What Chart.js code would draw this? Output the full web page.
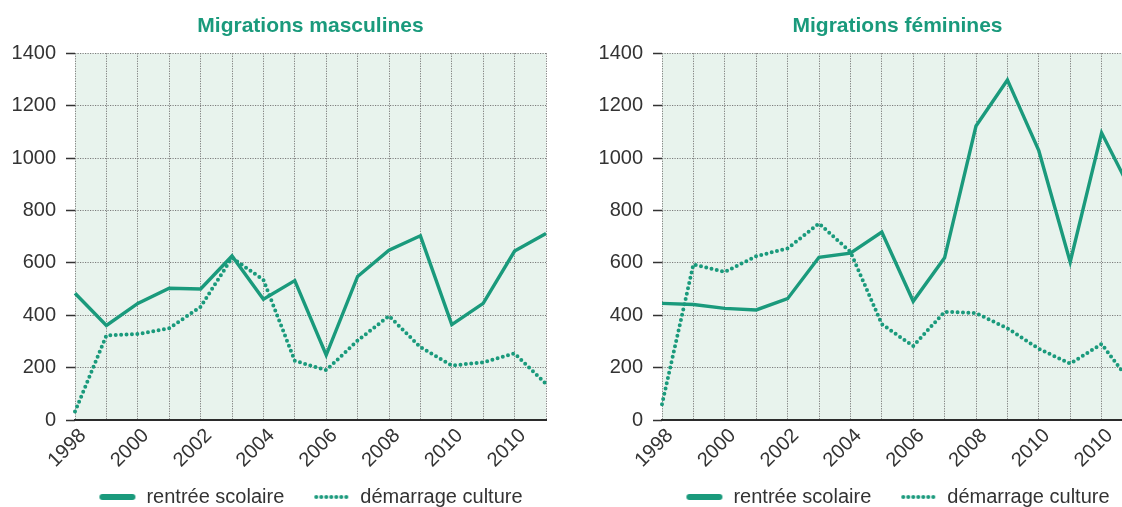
<!DOCTYPE html>
<html>
<head>
<meta charset="utf-8">
<script src="https://cdn.jsdelivr.net/npm/chart.js@4.4.0/dist/chart.umd.min.js"></script>
<style>
  html, body { margin: 0; padding: 0; background: #fff; overflow: hidden; width: 1122px; height: 507px; }
  .panel { position: absolute; top: 0; }
</style>
</head>
<body>
<div class="panel" style="left:0px"><canvas id="men" width="621" height="535"></canvas></div>
<div class="panel" style="left:587px"><canvas id="women" width="621" height="535"></canvas></div>
<script>
// years on the x axis, and the labels printed under every other year (the source repeats 2010)
const years = ["1998", "1999", "2000", "2001", "2002", "2003", "2004", "2005",
               "2006", "2007", "2008", "2009", "2010", "2011", "2012", "2013"];
const tickLabels = ["1998", "", "2000", "", "2002", "", "2004", "", "2006", "",
                    "2008", "", "2010", "", "2010", ""];
const seriesNames = ["rentrée scolaire", "démarrage culture"];
const titles = ["Migrations masculines", "Migrations féminines"];

// male migrations
const menSchool = [484, 361, 445, 503, 500, 626, 461, 532, 248, 548, 648, 703, 364, 445, 645, 712];
const menCrop   = [32, 323, 328, 350, 432, 619, 535, 226, 190, 303, 397, 278, 208, 220, 254, 138];
// female migrations
const womenSchool = [445, 441, 426, 420, 463, 621, 637, 717, 453, 619, 1122, 1298, 1028, 603, 1096, 860];
const womenCrop   = [60, 594, 565, 625, 655, 750, 642, 366, 282, 413, 408, 350, 272, 215, 290, 132];

const yTicks = { min: 0, max: 1400, step: 200 };

const teal = "#1a9a7c";
const gridGrey = "#7c7c7c";
const textGrey = "#333333";

//small pictures used as legend symbols
function solidSymbol() {
  const c = document.createElement("canvas");
  c.width = 38; c.height = 8;
  const g = c.getContext("2d");
  g.strokeStyle = teal;
  g.lineWidth = 6;
  g.lineCap = "round";
  g.beginPath(); g.moveTo(4, 4); g.lineTo(34, 4); g.stroke();
  return c;
}
function dottedSymbol() {
  const c = document.createElement("canvas");
  c.width = 38; c.height = 8;
  const g = c.getContext("2d");
  g.fillStyle = teal;
  for (let i = 0; i < 7; i++) {
    g.beginPath(); g.arc(4 + i * 5, 4, 2, 0, Math.PI * 2); g.fill();
  }
  return c;
}

//fill the plot area with the pale green
const plotBackground = {
  id: "plotBackground",
  beforeDraw(chart) {
    const a = chart.chartArea;
    const ctx = chart.ctx;
    ctx.save();
    ctx.fillStyle = "#e8f3ed";
    ctx.fillRect(a.left, a.top, a.right - a.left, a.bottom - a.top);
    ctx.restore();
  }
};

//pull the legend up a bit, the x labels need the room below the axis
const legendLift = {
  id: "legendLift",
  afterLayout(chart) {
    chart.legend.top -= 18;
    chart.legend.bottom -= 18;
  }
};

function makeChart(id, title, school, crop) {
  return new Chart(document.getElementById(id), {
    type: "line",
    plugins: [plotBackground, legendLift],
    data: {
      labels: years,
      datasets: [
        {
          label: seriesNames[0],
          data: school,
          borderColor: teal,
          backgroundColor: teal,
          borderWidth: 3.4,
          pointRadius: 0,
          pointStyle: solidSymbol(),
          tension: 0,
        },
        {
          label: seriesNames[1],
          data: crop,
          borderColor: teal,
          backgroundColor: teal,
          borderWidth: 4,
          borderDash: [0, 5.4],
          borderCapStyle: "round",
          pointRadius: 0,
          pointStyle: dottedSymbol(),
          tension: 0,
        },
      ],
    },
    options: {
      responsive: false,
      animation: false,
      devicePixelRatio: 1,
      layout: { padding: 0 },
      plugins: {
        tooltip: { enabled: false },
        title: {
          display: true,
          text: title,
          color: teal,
          font: { family: "Liberation Sans", size: 21, weight: "bold" },
          padding: { top: 14, bottom: 14 },
        },
        legend: {
          position: "bottom",
          labels: {
            usePointStyle: true,
            pointStyleWidth: 38,
            padding: 28,
            color: textGrey,
            font: { family: "Liberation Sans", size: 20 },
          },
        },
      },
      scales: {
        x: {
          ticks: {
            autoSkip: false,
            maxRotation: 45,
            minRotation: 45,
            padding: 4,
            labelOffset: 8,
            color: textGrey,
            font: { family: "Liberation Sans", size: 20 },
            callback: (v, i) => tickLabels[i],
          },
          grid: { color: gridGrey, lineWidth: 1, drawTicks: false },
          border: { display: true, color: "#2b2b2b", width: 2, dash: [1.2, 1.3] },
          afterFit: (s) => { s.height = 57; },
        },
        y: {
          min: yTicks.min,
          max: yTicks.max,
          ticks: {
            stepSize: yTicks.step,
            padding: 4,
            color: textGrey,
            font: { family: "Liberation Sans", size: 20 },
            callback: (v) => String(v),
          },
          grid: {
            color: gridGrey,
            lineWidth: 1,
            tickLength: 15,
            tickColor: textGrey,
            tickWidth: 1.3,
            tickBorderDash: [0, 6, 9, 100],
          },
          border: { display: false, dash: [1.2, 1.3] },
          afterFit: (s) => { s.width = 75; },
        },
        //empty axis on the right so the plot sits in the middle of the canvas
        spacer: {
          position: "right",
          display: true,
          min: 0,
          max: 1,
          ticks: { display: false },
          grid: { drawOnChartArea: false, drawTicks: false },
          border: { display: false },
          afterFit: (s) => { s.width = 75; },
        },
      },
    },
  });
}

makeChart("men", titles[0], menSchool, menCrop);
makeChart("women", titles[1], womenSchool, womenCrop);
</script>
</body>
</html>
